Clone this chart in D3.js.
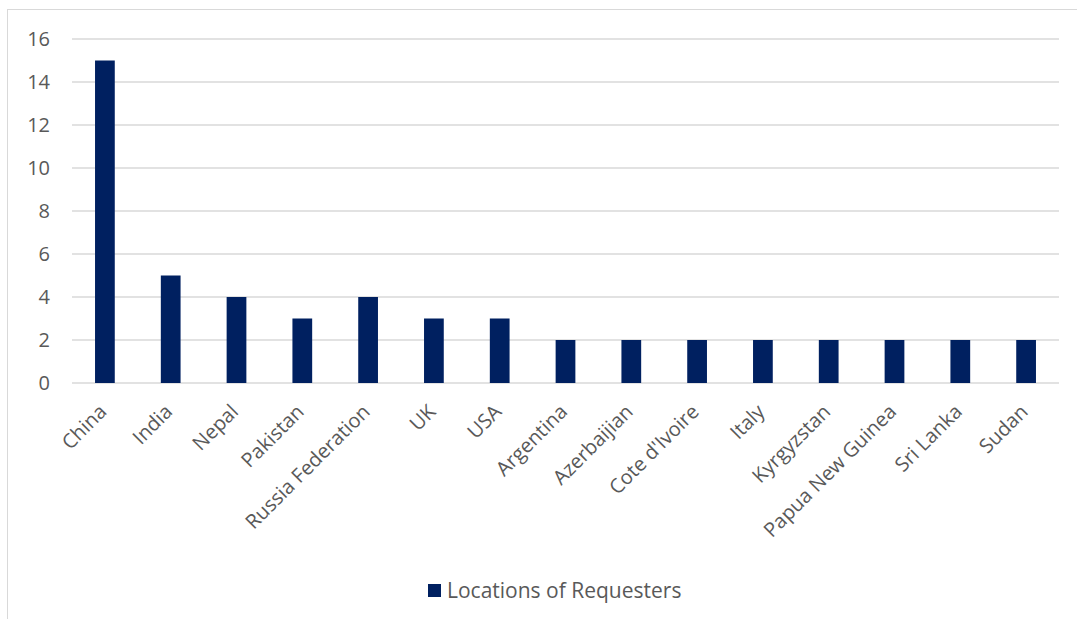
<!DOCTYPE html>
<html>
<head>
<meta charset="utf-8">
<script src="https://cdn.jsdelivr.net/npm/d3@7"></script>
<style>
body { margin: 0; background: #fff; }
text { font-family: "Open Sans", "Liberation Sans", sans-serif; fill: #595959; }
</style>
</head>
<body>
<div id="container"></div>
<script>

var countries = ["China", "India", "Nepal", "Pakistan", "Russia Federation", "UK", "USA", "Argentina",
	"Azerbaijian", "Cote d'Ivoire", "Italy", "Kyrgyzstan", "Papua New Guinea", "Sri Lanka", "Sudan"];
var requesters = [15, 5, 4, 3, 4, 3, 3, 2, 2, 2, 2, 2, 2, 2, 2];
var yTicks = [0, 2, 4, 6, 8, 10, 12, 14, 16];
var seriesName = "Locations of Requesters";


function drawit() {
	var width = 1077, height = 619;
	var left = 72, right = 1059, top = 39, bottom = 383;
	var barColor = "#002060";

	var svg = d3.select("#container")
	   .append("svg")
	   .attr("width", width)
	   .attr("height", height);

	// chart border
	svg.append("rect")
	   .attr("x", 7.5).attr("y", 9.5)
	   .attr("width", width + 10).attr("height", height + 10)
	   .attr("fill", "none")
	   .attr("stroke", "#d9d9d9");

	var x = d3.scaleBand()
	   .domain(countries)
	   .range([left, right])
	   .paddingInner(0.7)
	   .paddingOuter(0.35);

	var y = d3.scaleLinear()
	   .domain([0, 16])
	   .range([bottom, top]);

	// gridlines
	svg.selectAll("grid")
	   .data(yTicks)
	   .enter()
	   .append("line")
	   .attr("x1", left)
	   .attr("x2", right)
	   .attr("y1", function(d) { return y(d) })
	   .attr("y2", function(d) { return y(d) })
	   .attr("stroke", "#d9d9d9")
	   .attr("stroke-width", 1.3);

	// y labels
	svg.selectAll("ylab")
	   .data(yTicks)
	   .enter()
	   .append("text")
	   .attr("x", 50)
	   .attr("y", function(d) { return y(d) + 7 })
	   .attr("text-anchor", "end")
	   .style("font-size", "20px")
	   .text(function(d) { return d });

	// bars
	svg.selectAll("bar")
	   .data(requesters)
	   .enter()
	   .append("rect")
	   .attr("x", function(d, i) { return x(countries[i]) })
	   .attr("y", function(d) { return y(d) })
	   .attr("width", x.bandwidth())
	   .attr("height", function(d) { return y(0) - y(d) })
	   .attr("fill", barColor);

	// x labels, rotated
	svg.selectAll("xlab")
	   .data(countries)
	   .enter()
	   .append("text")
	   .attr("transform", function(d) {
	     var cx = x(d) + x.bandwidth() / 2 + 3;
	     return "translate(" + cx + "," + (bottom + 30) + ") rotate(-45)";
	   })
	   .attr("text-anchor", "end")
	   .style("font-size", "20px")
	   .text(function(d) { return d });

	// legend
	var lg = svg.append("g").attr("transform", "translate(428,584)");
	lg.append("rect")
	   .attr("width", 13).attr("height", 13)
	   .attr("fill", barColor);
	lg.append("text")
	   .attr("x", 19).attr("y", 14)
	   .style("font-size", "21px")
	   .text(seriesName);
};

drawit();
</script>
</body>
</html>
